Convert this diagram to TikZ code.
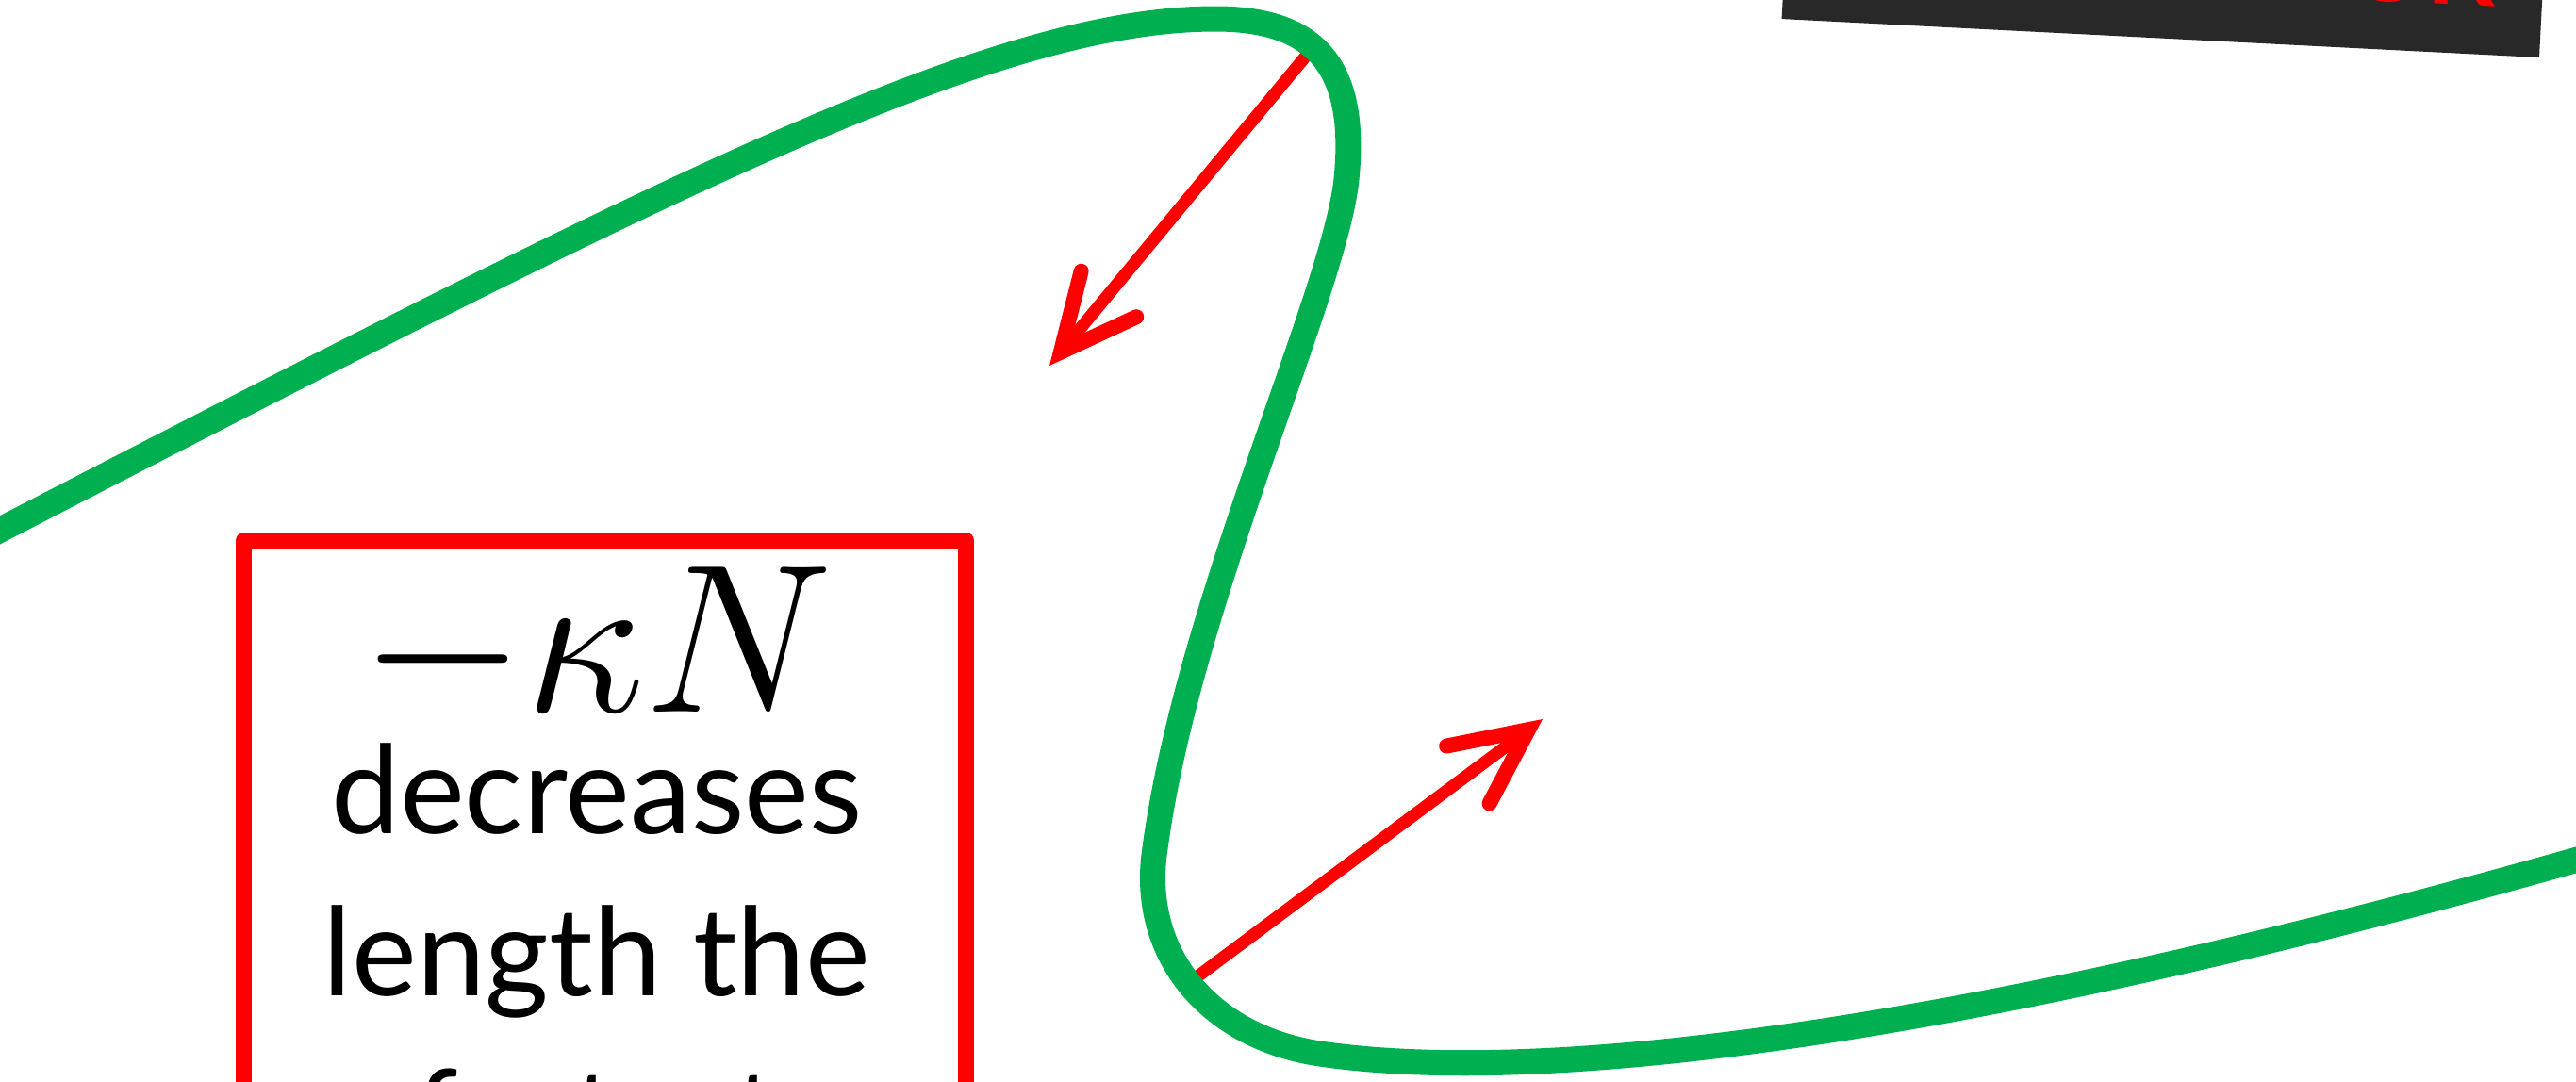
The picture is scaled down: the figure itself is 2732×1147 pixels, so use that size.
\documentclass[tikz,border=0pt]{standalone}
\usepackage{fontspec}
\setsansfont{Lato}
\usetikzlibrary{arrows.meta}
\definecolor{curvegreen}{RGB}{0,176,80}
\definecolor{tagdark}{RGB}{40,40,40}
\tikzset{
  curve/.style={draw=curvegreen, line width=0.27cm, line cap=round},
  arr/.style={-{Straight Barb[length=0.8cm, width=0.76cm, line width=0.16cm, line cap=round, line join=miter]}, draw=red, line width=0.13cm, line cap=round},
  notebox/.style={draw=red, line width=0.17cm, line join=round, minimum width=7.66cm, minimum height=10cm, inner sep=0pt, anchor=north west},
  txt/.style={font=\sffamily\fontsize{37}{44}\selectfont, anchor=base, inner sep=0pt},
  tagbox/.style={fill=tagdark, text=red, font=\sffamily\bfseries\fontsize{30}{36}\selectfont, rotate=-2.92, anchor=south east, text width=7.04cm, align=right, inner xsep=0.5cm, inner ysep=0.5cm, outer sep=0pt},
}
\begin{document}
\begin{tikzpicture}[x=0.01cm, y=-0.01cm]
\useasboundingbox (0,0) rectangle (2732,1147);
\clip (0,0) rectangle (2732,1147);

% label at the top edge
\node[tagbox] (tag) at (2693,61) {LOOK};

% boxed remark
\node[notebox] (note) at (250,565) {};
\node[txt, font=\Huge, scale=2.57] (kN) at (633,755) {$-\kappa N$};
\node[txt] (dec) at (633,884) {decreases};
\node[txt] (len) at (633,1056) {length the};
\node[txt] (fast) at (633,1228) {fastest};

% normal arrows
\coordinate (tailA) at (1387,57);
\coordinate (headA) at (1113,388);
\coordinate (tailB) at (1262,1042);
\coordinate (headB) at (1636,763);
\draw[arr] (tailA) -- (headA);
\draw[arr] (tailB) -- (headB);

% the curve
\draw[curve] (-40,583) .. controls (700,200) and (1050,20) .. (1289,20)
  .. controls (1395,20) and (1440,70) .. (1428,190)
  .. controls (1416,310) and (1260,640) .. (1225,900)
  .. controls (1208,1010) and (1280,1100) .. (1400,1118)
  .. controls (1620,1150) and (2050,1110) .. (2800,893);

\end{tikzpicture}
\end{document}
